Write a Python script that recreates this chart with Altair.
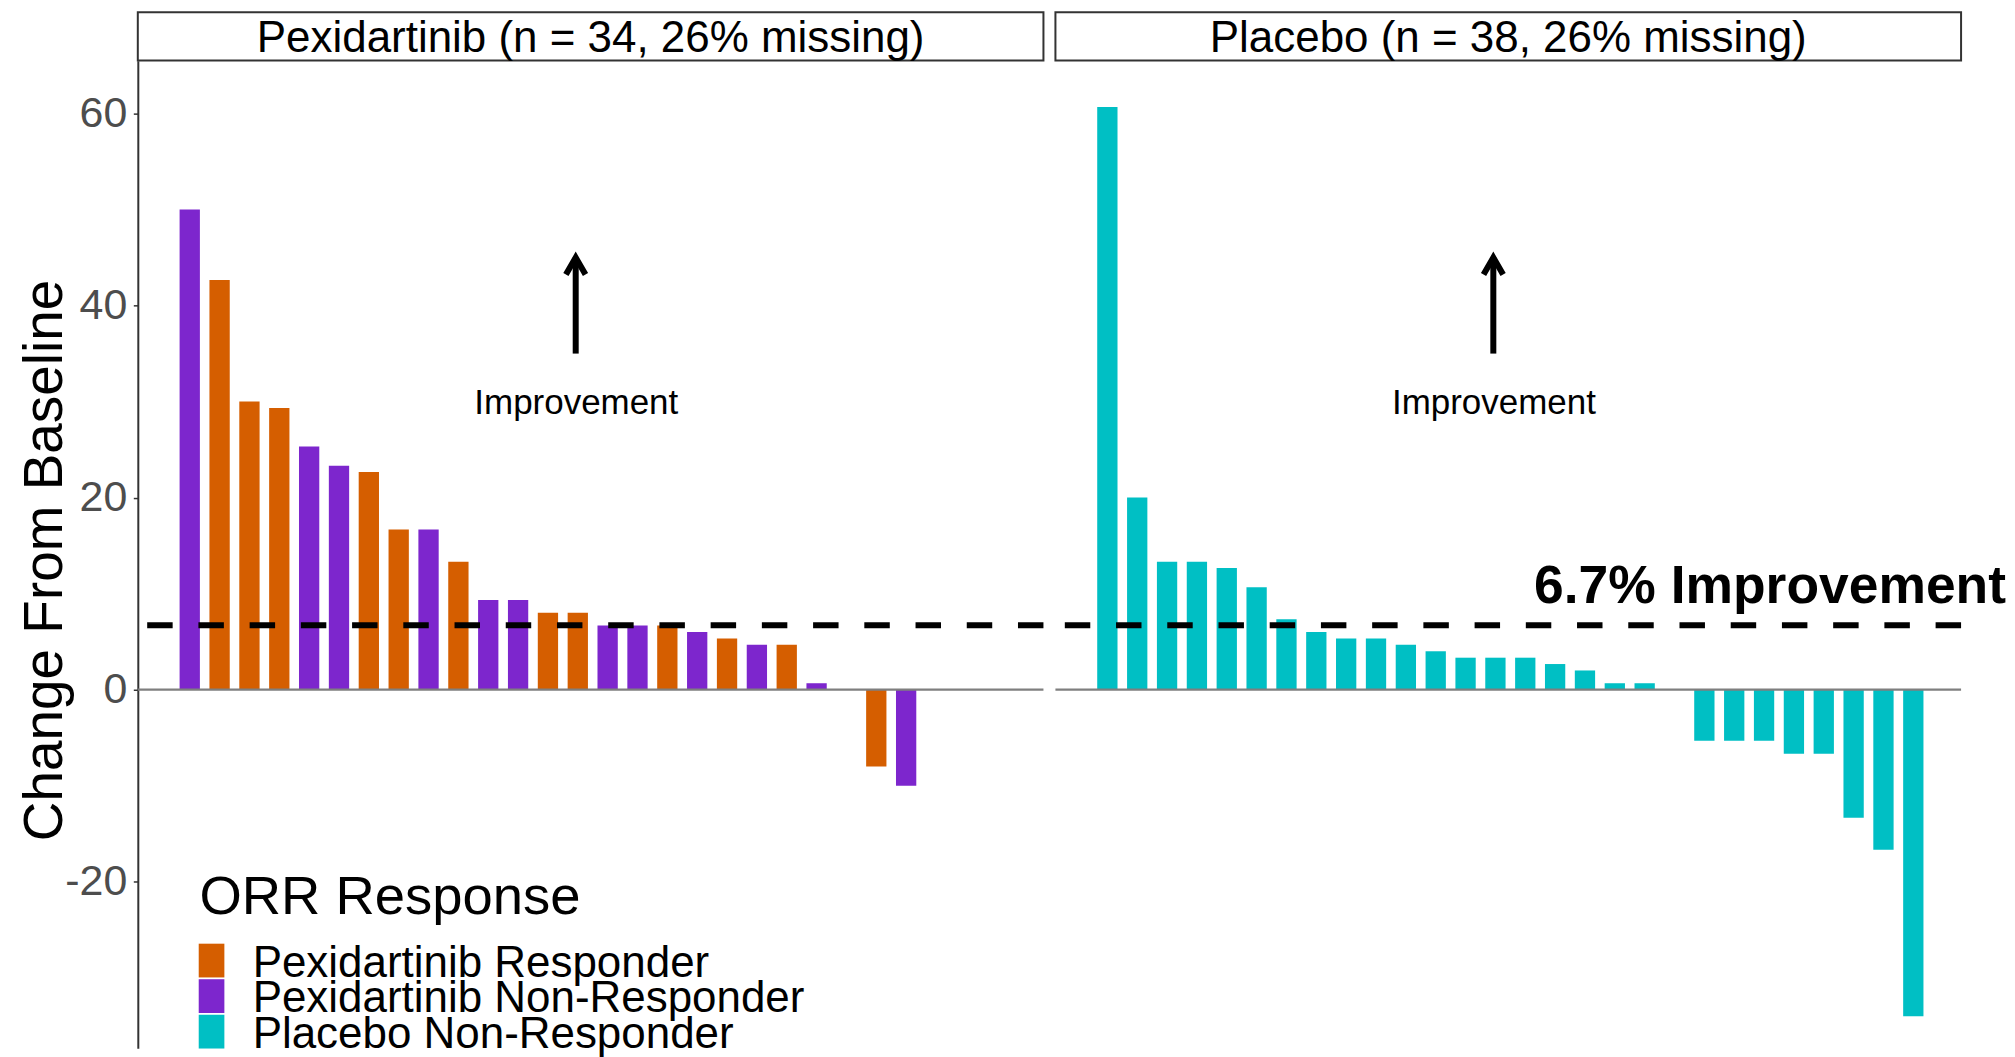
import altair as alt
import pandas as pd

FONT = "Liberation Sans, Arial, Helvetica, sans-serif"

# ---------------- data ----------------
groups = ["Pexidartinib Responder", "Pexidartinib Non-Responder", "Placebo Non-Responder"]
colors = ["#D55E00", "#7D26CD", "#00BFC4"]
legend_title = ["ORR Response"]

pex_header = "Pexidartinib (n = 34, 26% missing)"
plc_header = "Placebo (n = 38, 26% missing)"

pex_values = [50, 42.67, 30, 29.33, 25.33, 23.33, 22.67, 16.67, 16.67, 13.33,
              9.33, 9.33, 8, 8, 6.67, 6.67, 6.67, 6, 5.33, 4.67,
              4.67, 0.67, 0, -8, -10]
pex_codes = ["N", "R", "R", "R", "N", "N", "R", "R", "N", "R",
             "N", "N", "R", "R", "N", "N", "R", "N", "R", "N",
             "R", "N", "N", "R", "N"]

plc_values = [60.67, 20, 13.33, 13.33, 12.67, 10.67, 7.33, 6, 5.33, 5.33,
              4.67, 4, 3.33, 3.33, 3.33, 2.67, 2, 0.67, 0.67, 0,
              -5.33, -5.33, -5.33, -6.67, -6.67, -13.33, -16.67, -34]

threshold = [6.7]
threshold_label = ["6.7% Improvement"]
threshold_label_pos = [23.2, 9.0]      # x (patient slot), y (baseline)

arrow_x = [13.93]
arrow_from = [35]
arrow_to = [45]
improve_label = ["Improvement"]
improve_pos = [13.95, 28.7]

y_ticks = [-20, 0, 20, 40, 60]
y_domain = [-37.34, 65.5]
x_domain = [-0.74, 29.6]

# ---------------- tables ----------------
code_map = {"R": groups[0], "N": groups[1]}
pex_df = pd.DataFrame({
    "idx": list(range(1, len(pex_values) + 1)),
    "value": pex_values,
    "group": [code_map[c] for c in pex_codes],
})
plc_df = pd.DataFrame({
    "idx": list(range(1, len(plc_values) + 1)),
    "value": plc_values,
    "group": [groups[2]] * len(plc_values),
})
legend_df = pd.DataFrame({"group": groups})

W = 907
H = 989
HEAD_H = 52

xscale = alt.Scale(domain=x_domain, nice=False, zero=False)
yscale = alt.Scale(domain=y_domain, nice=False, zero=False)
cscale = alt.Scale(domain=groups, range=colors)
# legend rows placed by a band scale in the lower-left corner of the panel
leg_scale = alt.Scale(domain=groups, range=[884.3, 989.3], paddingInner=0.05, paddingOuter=0)

yaxis = alt.Axis(
    values=y_ticks, grid=False, labelExpr="'' + datum.value",
    labelFontSize=43, labelFont=FONT, labelColor="#4D4D4D", labelPadding=6.5,
    tickColor="#333333", tickSize=4.5, tickWidth=1.5,
    domainColor="#333333", domainWidth=2,
    title="Change From Baseline", titleFontSize=55, titleFont=FONT,
    titleFontWeight="normal", titleColor="black",
    titleAngle=270, titleBaseline="alphabetic", titleAlign="center",
    titleX=-76.5, titleY=500, titleLimit=3000,
)


def header(label):
    d = pd.DataFrame({"label": [label]})
    box = alt.Chart(d).mark_rect(fill="white", stroke="#333333", strokeWidth=2).encode(
        x=alt.value(0), x2=alt.value(W), y=alt.value(3.5), y2=alt.value(51.7)
    )
    txt = alt.Chart(d).mark_text(
        fontSize=44, font=FONT, color="black", baseline="alphabetic", align="center"
    ).encode(x=alt.value(W / 2), y=alt.value(43.4), text="label:N")
    return (box + txt).properties(width=W, height=HEAD_H)


def legend_layer():
    sym = alt.Chart(legend_df).mark_rect().encode(
        x=alt.value(61), x2=alt.value(86.7),
        y=alt.Y("group:N", scale=leg_scale, axis=None, sort=groups),
        color=alt.Color("group:N", scale=cscale, legend=None),
    )
    lab = alt.Chart(legend_df).mark_text(
        fontSize=44, font=FONT, color="black", align="left", baseline="middle", dy=3
    ).encode(
        x=alt.value(115),
        y=alt.Y("group:N", scale=leg_scale, axis=None, sort=groups),
        text="group:N",
    )
    ttl = alt.Chart(pd.DataFrame({"t": legend_title})).mark_text(
        fontSize=54.5, font=FONT, color="black", align="left", baseline="alphabetic"
    ).encode(x=alt.value(61.7), y=alt.value(855), text="t:N")
    return alt.layer(sym, lab, ttl)


def panel(df, show_axis, show_legend, big_text):
    ax = yaxis if show_axis else None
    bars = alt.Chart(df).transform_calculate(
        x1="datum.idx - 0.34", x2="datum.idx + 0.34"
    ).mark_bar().encode(
        x=alt.X("x1:Q", scale=xscale, axis=None),
        x2="x2:Q",
        y=alt.Y("value:Q", scale=yscale, axis=ax),
        y2=alt.datum(0),
        color=alt.Color("group:N", scale=cscale, legend=None),
    )
    zero = alt.Chart(pd.DataFrame({"v": [0]})).mark_rule(
        color="#7F7F7F", strokeWidth=2.3
    ).encode(y=alt.Y("v:Q", scale=yscale, axis=ax))
    thr = alt.Chart(pd.DataFrame({"v": threshold})).mark_rule(
        color="black", strokeWidth=6, strokeDash=[25.5, 25.8]
    ).encode(y=alt.Y("v:Q", scale=yscale, axis=ax))
    arr = alt.Chart(pd.DataFrame({"x": arrow_x, "y": arrow_from, "y2": arrow_to})).mark_rule(
        color="black", strokeWidth=6
    ).encode(
        x=alt.X("x:Q", scale=xscale, axis=None),
        y=alt.Y("y:Q", scale=yscale, axis=ax),
        y2="y2:Q",
    )
    head = alt.Chart(pd.DataFrame({"x": arrow_x, "y": arrow_to})).mark_point(
        shape="M-0.577,1L0,0L0.577,1", size=1156, filled=False,
        stroke="black", strokeWidth=6, strokeJoin="miter", strokeCap="butt", opacity=1
    ).encode(
        x=alt.X("x:Q", scale=xscale, axis=None),
        y=alt.Y("y:Q", scale=yscale, axis=ax),
    )
    imp = alt.Chart(pd.DataFrame({"x": [improve_pos[0]], "y": [improve_pos[1]],
                                  "t": improve_label})).mark_text(
        fontSize=35, font=FONT, color="black", align="center", baseline="alphabetic"
    ).encode(
        x=alt.X("x:Q", scale=xscale, axis=None),
        y=alt.Y("y:Q", scale=yscale, axis=ax),
        text="t:N",
    )
    layers = [bars, zero, thr, arr, head, imp]
    if big_text:
        big = alt.Chart(pd.DataFrame({"x": [threshold_label_pos[0]],
                                      "y": [threshold_label_pos[1]],
                                      "t": threshold_label})).mark_text(
            fontSize=53.5, font=FONT, fontWeight="bold", color="black",
            align="center", baseline="alphabetic"
        ).encode(
            x=alt.X("x:Q", scale=xscale, axis=None),
            y=alt.Y("y:Q", scale=yscale, axis=ax),
            text="t:N",
        )
        layers.append(big)
    main = alt.layer(*layers)
    if show_legend:
        main = alt.layer(main, legend_layer()).resolve_scale(y="independent")
    return main.properties(width=W, height=H)


left = alt.vconcat(header(pex_header), panel(pex_df, True, True, False),
                   spacing=0, bounds="flush")
right = alt.vconcat(header(plc_header), panel(plc_df, False, False, True),
                    spacing=0, bounds="flush")

chart = alt.hconcat(left, right, spacing=6).properties(
    padding={"left": 9, "top": 0, "right": 0, "bottom": 0}
).configure(
    font=FONT, background="white"
).configure_view(stroke="transparent", strokeWidth=0)

chart.save("out.html", embed_options={"renderer": "svg", "actions": False})
